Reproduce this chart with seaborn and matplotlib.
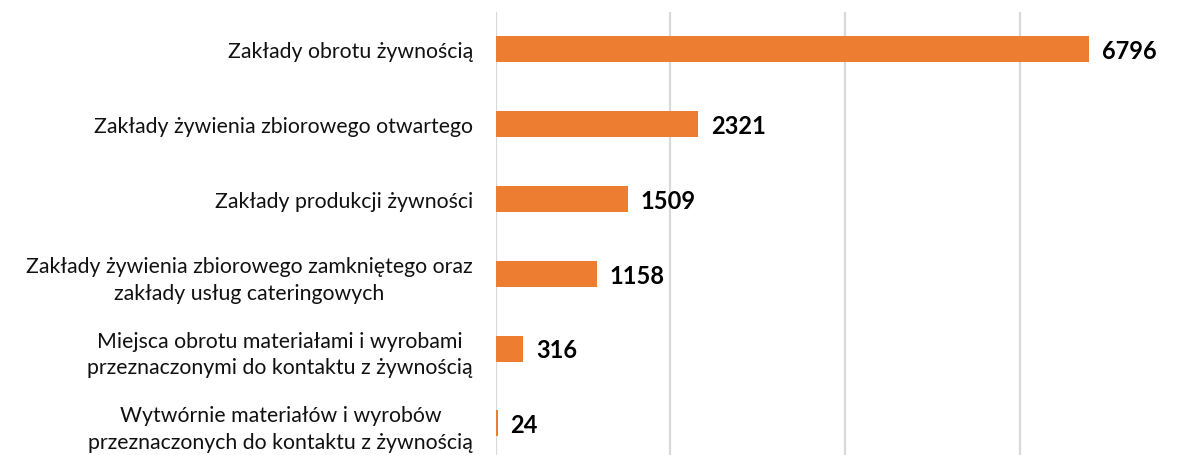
import matplotlib
matplotlib.use("Agg")
import matplotlib.pyplot as plt
import seaborn as sns
import pandas as pd

categories = [
    "Zakłady obrotu żywnością",
    "Zakłady żywienia zbiorowego otwartego",
    "Zakłady produkcji żywności",
    "Zakłady żywienia zbiorowego zamkniętego oraz\nzakłady usług cateringowych",
    "Miejsca obrotu materiałami i wyrobami\nprzeznaczonymi do kontaktu z żywnością",
    "Wytwórnie materiałów i wyrobów\nprzeznaczonych do kontaktu z żywnością",
]
values = [6796, 2321, 1509, 1158, 316, 24]

df = pd.DataFrame({"kategoria": categories, "liczba": values})

sns.set_theme(style="white")
plt.rcParams["font.family"] = ["Lato", "DejaVu Sans"]

W, H = 1183, 456
fig = plt.figure(figsize=(W / 100, H / 100), dpi=100)
left, top = 495.7, 13
ax = fig.add_axes([left / W, 0, 1 - left / W, (H - top) / H])

sns.barplot(data=df, y="kategoria", x="liczba", orient="h", color="#ED7D31",
            width=0.348, saturation=1, linewidth=0, ax=ax)

ax.set_xlim(0, (W - left) / 0.08735)
ax.set_ylim(-0.5 + (H - top) / 74.8, -0.5)
ax.set_xticks([0, 2000, 4000, 6000])
ax.xaxis.grid(True, color="#D9D9D9", linewidth=1.6)
ax.set_axisbelow(True)
ax.tick_params(axis="x", length=0, labelbottom=False)
ax.tick_params(axis="y", length=0, pad=16.5, labelsize=15.3, labelcolor="#111111")
for t in ax.get_yticklabels():
    t.set_multialignment("center")
    t.set_linespacing(1.42)
for s in ax.spines.values():
    s.set_visible(False)
ax.set_xlabel("")
ax.set_ylabel("")

for i, v in enumerate(values):
    ax.annotate(f"{v}", xy=(v, i), xytext=(9, -1), textcoords="offset points",
                va="center", ha="left", fontsize=17, fontweight="bold", color="black")

fig.savefig("out.png", dpi=100)
